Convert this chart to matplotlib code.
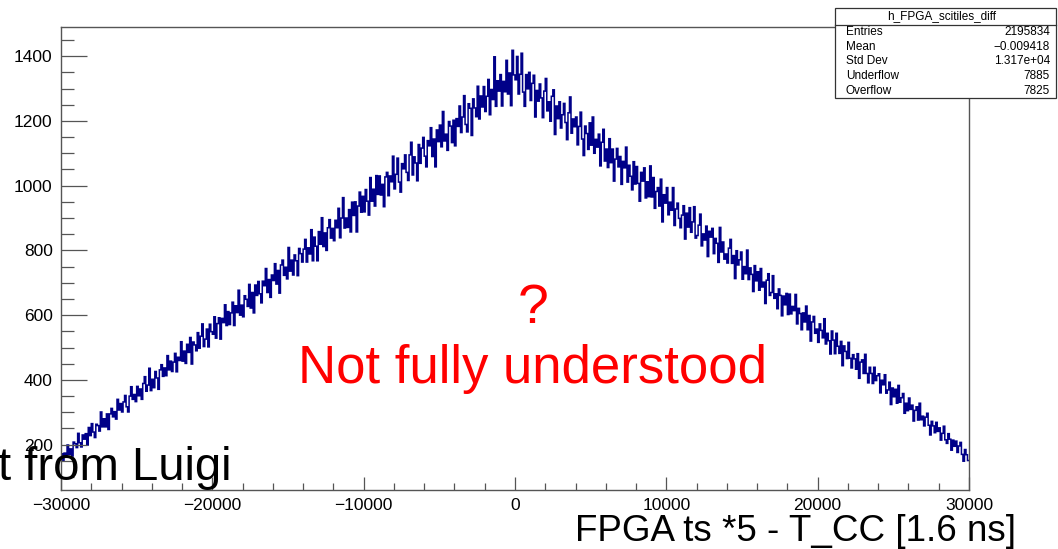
import numpy as np
import matplotlib
matplotlib.use("Agg")
import matplotlib.pyplot as plt
from matplotlib.ticker import MultipleLocator

plt.rcParams['font.family'] = ['Liberation Sans', 'DejaVu Sans']

# ---------------- data ----------------
x_min, x_max = -30000, 30000
y_min, y_max = 60, 1490

counts = [
    172, 150, 174, 167, 199, 170, 187, 165, 208, 203,
    191, 235, 206, 193, 230, 217, 234, 199, 253, 228,
    265, 239, 222, 263, 259, 242, 301, 255, 280, 255,
    295, 247, 295, 312, 286, 302, 279, 340, 307, 327,
    301, 332, 352, 317, 301, 350, 379, 340, 355, 333,
    380, 351, 372, 340, 389, 410, 365, 384, 436, 367,
    402, 376, 426, 406, 371, 431, 447, 411, 437, 413,
    475, 431, 458, 426, 455, 482, 425, 470, 460, 518,
    458, 489, 451, 510, 485, 531, 449, 517, 508, 490,
    546, 498, 535, 573, 503, 526, 557, 502, 572, 549,
    541, 595, 529, 574, 592, 526, 590, 577, 632, 568,
    611, 571, 607, 640, 568, 629, 608, 677, 600, 631,
    595, 660, 649, 627, 695, 622, 670, 607, 693, 661,
    704, 666, 638, 705, 691, 744, 670, 710, 655, 724,
    707, 759, 696, 738, 668, 755, 770, 723, 748, 712,
    809, 736, 770, 724, 786, 768, 722, 806, 790, 764,
    804, 834, 764, 808, 789, 864, 768, 841, 813, 768,
    858, 819, 901, 812, 854, 800, 870, 895, 838, 868,
    830, 893, 870, 930, 839, 900, 963, 869, 900, 871,
    926, 857, 949, 908, 950, 857, 937, 980, 918, 967,
    919, 988, 952, 909, 1025, 952, 989, 937, 1031, 973,
    1030, 971, 1004, 935, 1027, 1041, 969, 1030, 1012, 1091,
    990, 1035, 1085, 1011, 980, 1068, 1052, 1095, 1041, 1016,
    1095, 1134, 1033, 1089, 1070, 1015, 1127, 1069, 1116, 1149,
    1091, 1058, 1139, 1123, 1179, 1090, 1144, 1058, 1172, 1136,
    1187, 1120, 1229, 1138, 1159, 1109, 1198, 1184, 1133, 1202,
    1123, 1207, 1183, 1246, 1164, 1212, 1278, 1189, 1166, 1253,
    1239, 1155, 1268, 1240, 1213, 1307, 1206, 1277, 1243, 1306,
    1229, 1276, 1328, 1219, 1297, 1266, 1398, 1245, 1324, 1292,
    1343, 1246, 1322, 1290, 1387, 1283, 1348, 1247, 1418, 1342,
    1327, 1399, 1283, 1344, 1409, 1289, 1245, 1343, 1299, 1350,
    1263, 1316, 1341, 1212, 1294, 1261, 1314, 1271, 1210, 1292,
    1331, 1231, 1259, 1199, 1276, 1296, 1158, 1246, 1207, 1259,
    1178, 1219, 1254, 1195, 1142, 1225, 1274, 1162, 1206, 1182,
    1212, 1126, 1183, 1227, 1144, 1093, 1184, 1161, 1112, 1194,
    1125, 1212, 1100, 1143, 1119, 1159, 1061, 1134, 1174, 1076,
    1113, 1056, 1145, 1071, 1113, 1014, 1082, 1115, 1058, 1090,
    1004, 1075, 1055, 1119, 1011, 1063, 1029, 987, 1074, 1005,
    1059, 1007, 952, 1041, 1014, 1055, 962, 1012, 966, 1061,
    965, 1025, 930, 982, 994, 937, 1020, 888, 972, 946,
    994, 910, 949, 924, 994, 877, 928, 946, 899, 870,
    909, 938, 835, 915, 872, 932, 856, 888, 935, 838,
    846, 878, 912, 814, 851, 832, 875, 781, 859, 841,
    868, 790, 837, 822, 763, 871, 795, 826, 773, 789,
    761, 807, 834, 760, 784, 713, 799, 755, 771, 795,
    711, 750, 728, 801, 710, 746, 726, 673, 753, 706,
    734, 677, 744, 687, 702, 636, 708, 728, 661, 670,
    722, 652, 666, 620, 681, 661, 598, 659, 632, 667,
    602, 665, 604, 627, 614, 664, 573, 621, 605, 555,
    607, 579, 628, 555, 599, 520, 579, 596, 544, 557,
    516, 573, 553, 530, 589, 511, 544, 521, 480, 551,
    523, 481, 544, 504, 482, 519, 444, 505, 488, 466,
    516, 467, 437, 478, 465, 433, 481, 405, 455, 462,
    420, 479, 420, 391, 439, 420, 389, 439, 398, 413,
    419, 360, 399, 385, 416, 359, 369, 393, 324, 375,
    348, 371, 328, 383, 331, 345, 358, 297, 328, 305,
    344, 309, 322, 273, 306, 317, 276, 328, 277, 288,
    258, 285, 297, 260, 230, 272, 258, 237, 269, 241,
    252, 214, 235, 257, 215, 204, 234, 217, 183, 214,
    195, 211, 176, 196, 207, 170, 149, 185, 169, 151,
]

x_major_ticks = [-30000, -20000, -10000, 0, 10000, 20000, 30000]
y_major_ticks = [200, 400, 600, 800, 1000, 1200, 1400]

stats_title = "h_FPGA_scitiles_diff"
stats_names = ["Entries", "Mean", "Std Dev", "Underflow", "Overflow"]
stats_values = ["2195834", "\u22120.009418", "1.317e+04", "7885", "7825"]

x_title = "FPGA ts *5 - T_CC [1.6 ns]"

# ---------------- figure ----------------
W, H = 1058, 549
fig = plt.figure(figsize=(W / 100, H / 100), dpi=100)

def fx(px):
    return px / W

def fy(py):
    return 1 - py / H

ax_l, ax_r, ax_t, ax_b = 61, 969, 27, 490
ax = fig.add_axes([fx(ax_l), fy(ax_b), (ax_r - ax_l) / W, (ax_b - ax_t) / H])

edges = np.linspace(x_min, x_max, len(counts) + 1)
ax.stairs(counts, edges, color='#000088', lw=1.1, baseline=None)

ax.set_xlim(x_min, x_max)
ax.set_ylim(y_min, y_max)

ax.set_xticks(x_major_ticks)
ax.set_xticklabels([f"{v:d}".replace('-', '\u2212') for v in x_major_ticks])
ax.set_yticks(y_major_ticks)
ax.xaxis.set_minor_locator(MultipleLocator(2000))
ax.yaxis.set_minor_locator(MultipleLocator(50))

frame_col = '#555555'
for side in ['top', 'bottom', 'left', 'right']:
    ax.spines[side].set_color(frame_col)
    ax.spines[side].set_linewidth(1.0)

ax.tick_params(axis='x', which='major', direction='in', length=9.7, width=0.9,
               color=frame_col, labelsize=12.5, pad=6)
ax.tick_params(axis='x', which='minor', direction='in', length=4.9, width=0.9,
               color=frame_col)
ax.tick_params(axis='y', which='major', direction='in', length=18.7, width=0.9,
               color=frame_col, labelsize=12.5, pad=6)
ax.tick_params(axis='y', which='minor', direction='in', length=9.0, width=0.9,
               color=frame_col)

# ---------------- stats box ----------------
bx_l, bx_r, bx_t, bx_b = 835, 1056, 8, 98
box = plt.Rectangle((fx(bx_l), fy(bx_b)), (bx_r - bx_l) / W, (bx_b - bx_t) / H,
                    transform=fig.transFigure, facecolor='white',
                    edgecolor='#333333', lw=0.9, zorder=5)
fig.add_artist(box)
fig.add_artist(plt.Line2D([fx(bx_l), fx(bx_r)], [fy(25), fy(25)],
                          transform=fig.transFigure, color='#333333', lw=0.9, zorder=6))
fig.text(fx(942), fy(16), stats_title, ha='center', va='center', fontsize=8.5,
         zorder=7)
for i, (n, v) in enumerate(zip(stats_names, stats_values)):
    yy = 32 + i * 14.7
    fig.text(fx(846), fy(yy), n, ha='left', va='center', fontsize=8.5, zorder=7)
    fig.text(fx(1050), fy(yy), v, ha='right', va='center', fontsize=8.5, zorder=7)

# ---------------- overlay texts ----------------
fig.text(fx(533), fy(323), "?", ha='center', va='baseline', fontsize=40,
         color='#ff0000')
fig.text(fx(532), fy(383), "Not fully understood", ha='center', va='baseline',
         fontsize=38, color='#ff0000')
fig.text(fx(231), fy(480), "t from Luigi", ha='right', va='baseline',
         fontsize=34, color='black')
fig.text(fx(1016), fy(541), x_title, ha='right', va='baseline',
         fontsize=26.5, color='black')

fig.savefig("out.png", dpi=100)
